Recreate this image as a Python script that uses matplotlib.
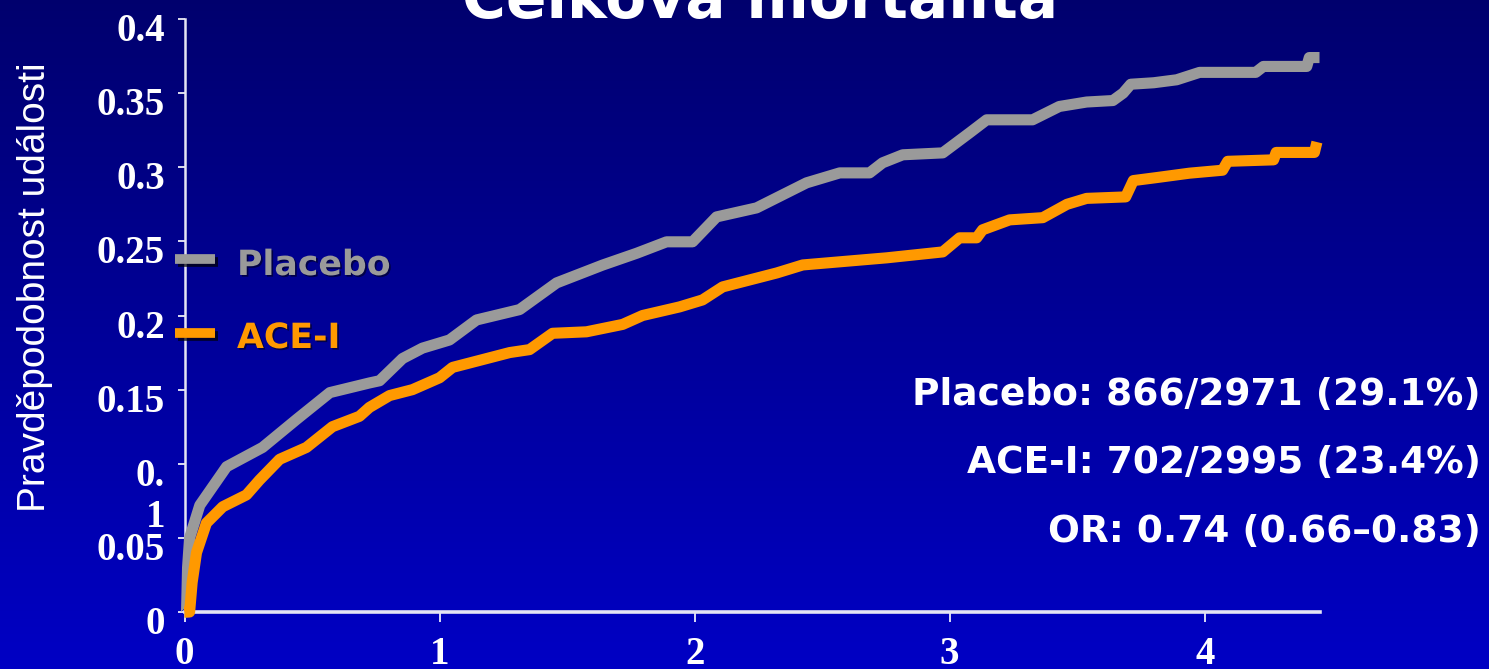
import matplotlib
matplotlib.use("Agg")
import matplotlib.pyplot as plt
import numpy as np
from matplotlib import patheffects as pe
from matplotlib.lines import Line2D

# ---- data -------------------------------------------------------------
placebo_years = [0, 0.008, 0.012, 0.02, 0.06, 0.165, 0.306, 0.44, 0.57, 0.725,
                 0.765, 0.855, 0.933, 1.039, 1.145, 1.314, 1.459, 1.639, 1.773,
                 1.89, 1.992, 2.086, 2.243, 2.439, 2.569, 2.686, 2.737, 2.816,
                 2.973, 3.078, 3.145, 3.325, 3.43, 3.537, 3.64, 3.68, 3.71, 3.80,
                 3.89, 3.98, 4.20, 4.23, 4.40, 4.41, 4.45]
placebo_prob = [0, 0, 0.03, 0.05, 0.072, 0.098, 0.111, 0.130, 0.148, 0.1545,
                0.156, 0.171, 0.178, 0.1835, 0.197, 0.204, 0.222, 0.234, 0.242,
                0.2497, 0.2497, 0.2665, 0.2726, 0.2895, 0.2962, 0.2962, 0.303,
                0.3084, 0.3097, 0.3232, 0.332, 0.332, 0.341, 0.344, 0.345, 0.350,
                0.356, 0.357, 0.359, 0.364, 0.364, 0.368, 0.368, 0.374, 0.374]

acei_years = [0, 0.02, 0.03, 0.047, 0.086, 0.15, 0.243, 0.294, 0.373, 0.478,
              0.58, 0.686, 0.725, 0.804, 0.894, 1.0, 1.051, 1.275, 1.353, 1.443,
              1.576, 1.718, 1.796, 1.941, 2.031, 2.11, 2.322, 2.424, 2.753,
              2.973, 3.039, 3.106, 3.129, 3.235, 3.365, 3.46, 3.537, 3.69, 3.72,
              3.81, 3.94, 4.07, 4.09, 4.27, 4.28, 4.43, 4.44]
acei_prob = [0, 0, 0.02, 0.04, 0.060, 0.071, 0.079, 0.089, 0.103, 0.111,
             0.125, 0.132, 0.138, 0.146, 0.150, 0.158, 0.165, 0.175, 0.177,
             0.188, 0.189, 0.194, 0.200, 0.2058, 0.2105, 0.2193, 0.2287, 0.2341,
             0.2389, 0.2429, 0.2524, 0.2524, 0.2578, 0.2645, 0.266, 0.275, 0.279,
             0.280, 0.291, 0.293, 0.296, 0.298, 0.304, 0.305, 0.310, 0.310, 0.317]

x_ticks = [0, 1, 2, 3, 4]
x_tick_labels = ["0", "1", "2", "3", "4"]
y_ticks = [0, 0.05, 0.1, 0.15, 0.2, 0.25, 0.3, 0.35, 0.4]
y_tick_labels = ["0", "0.05", "0.\n1", "0.15", "0.2", "0.25", "0.3", "0.35", "0.4"]

title = "Celková mortalita"
y_title = "Pravděpodobnost události"
series_names = ["Placebo", "ACE-I"]
summary_lines = ["Placebo: 866/2971 (29.1%)",
                 "ACE-I: 702/2995 (23.4%)",
                 "OR: 0.74 (0.66\u20130.83)"]

GRAY = "#9a9a9a"
ORANGE = "#ff9900"
AXIS = "#e4e4f4"

# ---- figure -----------------------------------------------------------
W, H = 1489, 669
fig = plt.figure(figsize=(W / 100, H / 100), dpi=100)

# vertical blue gradient background
bg = fig.add_axes([0, 0, 1, 1], zorder=-10)
g = np.linspace(0, 1, 256)
img = np.zeros((256, 1, 3))
img[:, 0, 2] = 0.43 + (0.77 - 0.43) * g
bg.imshow(img, aspect="auto", extent=[0, 1, 0, 1], origin="upper")
bg.set_axis_off()

def fx(px):
    return px / W

def fy(py):
    return 1 - py / H

left, right, top, bottom = 184.5, 1319.5, 19, 612
ax = fig.add_axes([fx(left), fy(bottom), fx(right - left), (bottom - top) / H])
ax.patch.set_alpha(0)

ax.plot(placebo_years, placebo_prob, color=GRAY, lw=8, solid_joinstyle="round",
        solid_capstyle="butt", clip_on=False, zorder=3)
ax.plot(acei_years, acei_prob, color=ORANGE, lw=8, solid_joinstyle="round",
        solid_capstyle="butt", clip_on=False, zorder=3)

ax.set_xlim(0, 4.45)
ax.set_ylim(0, 0.4)

for s in ("top", "right"):
    ax.spines[s].set_visible(False)
ax.spines["left"].set_color(AXIS)
ax.spines["left"].set_linewidth(1.8)
ax.spines["bottom"].set_color(AXIS)
ax.spines["bottom"].set_linewidth(2.6)
ax.spines["left"].set_zorder(2)
ax.spines["bottom"].set_zorder(2)

serif_bold = dict(family="Liberation Serif", weight="bold", color="white")

ax.set_xticks(x_ticks)
ax.set_xticklabels(x_tick_labels, fontsize=28, **serif_bold)
ax.tick_params(axis="x", direction="out", length=7, width=1.2, color="white", pad=10)

ax.set_yticks(y_ticks)
ax.set_yticklabels([""] * len(y_ticks))
ax.tick_params(axis="y", direction="out", length=5, width=1.2, color="white", pad=0)

# y tick labels sit slightly below their ticks
for v, lab in zip(y_ticks, y_tick_labels):
    parts = lab.split("\n")
    for i, part in enumerate(parts):
        ax.annotate(part, xy=(0, v), xycoords=("axes fraction", "data"),
                    xytext=(-14, -9 - i * 30), textcoords="offset points",
                    ha="right", va="center", fontsize=28, **serif_bold,
                    annotation_clip=False)

# title (runs off the top edge)
fig.text(fx(760), fy(18), title, ha="center", va="baseline", fontsize=43,
         weight="bold", color="white", family="DejaVu Sans")

# axis title
fig.text(fx(35), fy(287), y_title, rotation=90, ha="center", va="center",
         fontsize=28, color="white", family="Liberation Sans")

# in-plot legend
shadow_line = [pe.SimpleLineShadow(offset=(2, -2), shadow_color="black", alpha=0.7),
               pe.Normal()]
shadow_text = [pe.withSimplePatchShadow(offset=(1.2, -1.2), shadow_rgbFace="black",
                                        alpha=0.5)]
for name, col, ly, by in ((series_names[0], GRAY, 259, 275),
                          (series_names[1], ORANGE, 333, 348)):
    fig.add_artist(Line2D([fx(175), fx(215)], [fy(ly), fy(ly)], color=col, lw=7,
                          solid_capstyle="butt", path_effects=shadow_line))
    fig.text(fx(237), fy(by), name, ha="left", va="baseline", fontsize=25,
             weight="bold", color=col, family="DejaVu Sans",
             path_effects=shadow_text)

# summary statistics
for line, by in zip(summary_lines, (405, 473, 542)):
    fig.text(fx(1481), fy(by), line, ha="right", va="baseline", fontsize=27,
             weight="bold", color="white", family="DejaVu Sans")

fig.savefig("out.png", dpi=100)
